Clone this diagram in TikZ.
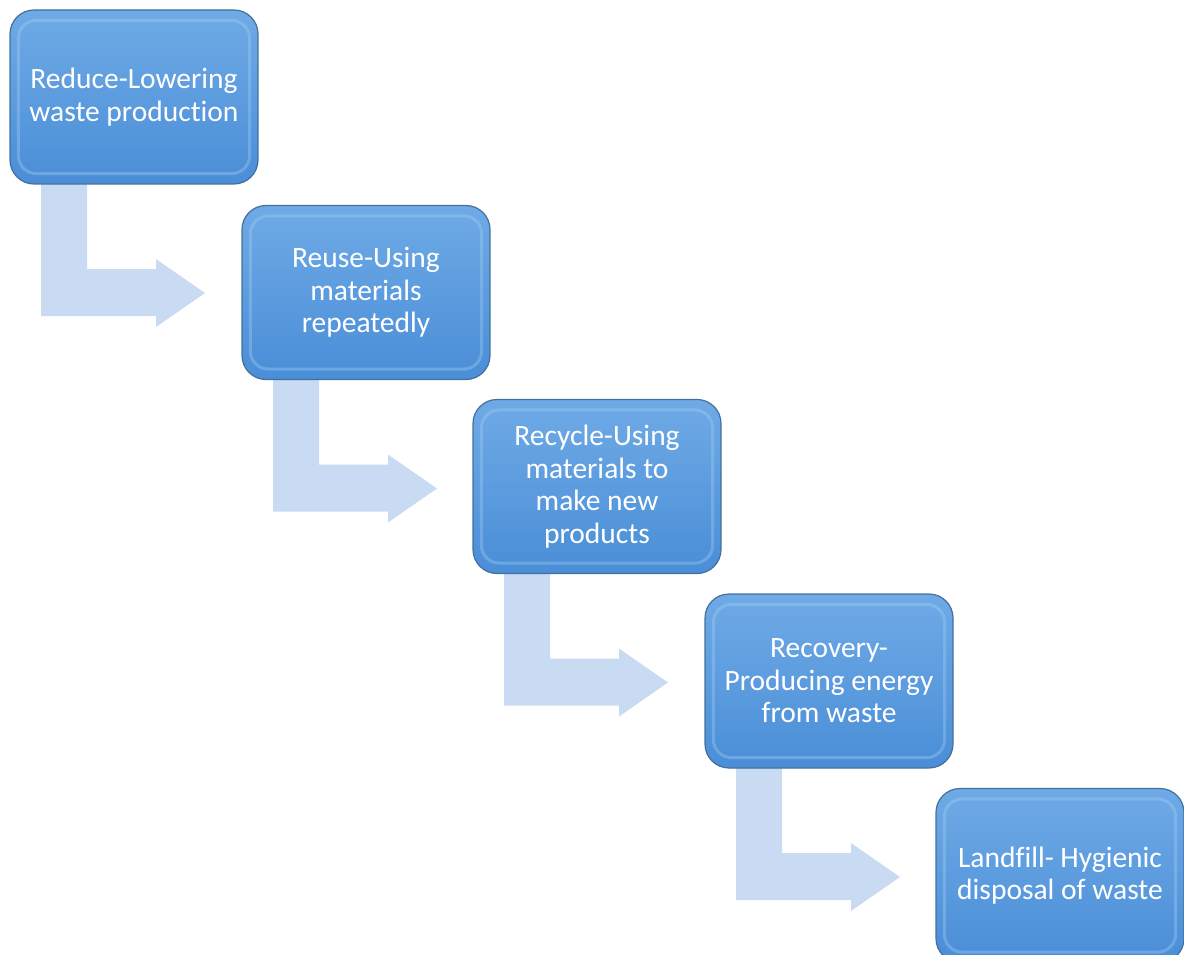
\documentclass[tikz,border=0pt]{standalone}
\usepackage{fontspec}
\setmainfont{Carlito}[Ligatures=NoCommon]
\usetikzlibrary{calc}
\definecolor{arrowblue}{HTML}{C9DBF2}
\definecolor{boxtop}{HTML}{6FAAE6}
\definecolor{boxbot}{HTML}{4A8ED7}
\definecolor{boxedge}{HTML}{41719C}
\definecolor{bevel}{HTML}{A6D2F5}
\tikzset{
  stepbox/.style={rectangle, rounded corners=24pt, minimum width=248pt, minimum height=174pt,
    top color=boxtop, bottom color=boxbot, draw=boxedge, line width=1.2pt,
    text=white, align=center, inner sep=0pt,
    font=\fontsize{29.5pt}{32.5pt}\selectfont},
  flowarrow/.style={fill=arrowblue, draw=none},
  bevelline/.style={draw=bevel, line width=3pt, rounded corners=18pt, opacity=0.35}
}
\begin{document}
\begin{tikzpicture}[x=1pt,y=-1pt]
\useasboundingbox (0,0) rectangle (1184,955);
\clip (0,0) rectangle (1184,955);
% box positions
\coordinate (p1) at (134,97);
\coordinate (p2) at (366,292.5);
\coordinate (p3) at (597,486.5);
\coordinate (p4) at (829,681);
\coordinate (p5) at (1060,875.5);
% bent arrows (behind the boxes)
\foreach \i in {1,2,3,4}{
  \path (p\i) ++(-124,-88) coordinate (tl\i);
  \fill[flowarrow] ($(tl\i)+(31,150)$) -- ($(tl\i)+(77,150)$) -- ($(tl\i)+(77,260)$)
    -- ($(tl\i)+(146,260)$) -- ($(tl\i)+(146,250)$) -- ($(tl\i)+(195,284)$)
    -- ($(tl\i)+(146,318)$) -- ($(tl\i)+(146,307)$) -- ($(tl\i)+(31,307)$) -- cycle;
}
\node[stepbox] (b1) at (p1) {Reduce-Lowering\\waste production};
\node[stepbox] (b2) at (p2) {Reuse-Using\\materials\\repeatedly};
\node[stepbox] (b3) at (p3) {Recycle-Using\\materials to\\make new\\products};
\node[stepbox] (b4) at (p4) {Recovery-\\Producing energy\\from waste};
\node[stepbox] (b5) at (p5) {Landfill- Hygienic\\disposal of waste};
\foreach \n in {b1,b2,b3,b4,b5}{
  \draw[bevelline] ($(\n.north west)+(9,11)$) rectangle ($(\n.south east)+(-9,-11)$);
}
\end{tikzpicture}
\end{document}
